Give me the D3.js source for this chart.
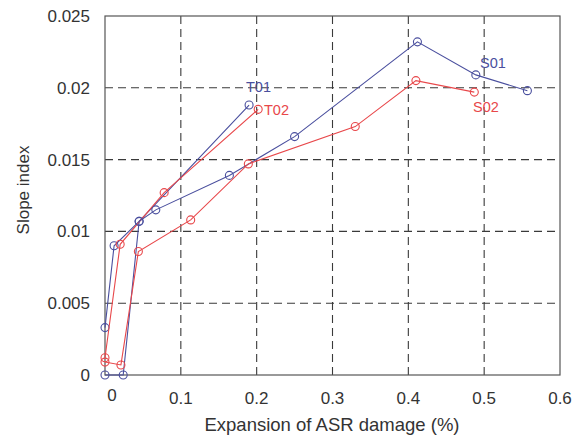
<!DOCTYPE html>
<html>
<head>
<meta charset="utf-8">
<script src="https://cdn.jsdelivr.net/npm/d3@7"></script>
<style>
  html, body { margin: 0; padding: 0; background: #fff; }
  svg { display: block; font-family: "Liberation Sans", Arial, sans-serif; }
</style>
</head>
<body>
<svg id="chart" width="581" height="437"></svg>
<script>
// ---- data ----
const xTicks = [0, 0.1, 0.2, 0.3, 0.4, 0.5, 0.6];
const yTicks = [0, 0.005, 0.01, 0.015, 0.02, 0.025];
const yTickLabels = ["0", "0.005", "0.01", "0.015", "0.02", "0.025"];
const xTickLabels = ["0", "0.1", "0.2", "0.3", "0.4", "0.5", "0.6"];

const seriesNames = ["T01", "T02", "S01", "S02"];
const T01_x = [0, 0.012, 0.045, 0.190];
const T01_y = [0.0033, 0.0090, 0.0107, 0.0188];
const T02_x = [0, 0.020, 0.078, 0.202];
const T02_y = [0.0012, 0.0091, 0.0127, 0.0185];
const S01_x = [0, 0.024, 0.045, 0.067, 0.164, 0.250, 0.412, 0.489, 0.557];
const S01_y = [0, 0, 0.0107, 0.0115, 0.0139, 0.0166, 0.0232, 0.0209, 0.0198];
const S02_x = [0, 0.021, 0.044, 0.113, 0.189, 0.330, 0.410, 0.487];
const S02_y = [0.0009, 0.0007, 0.0086, 0.0108, 0.0147, 0.0173, 0.0205, 0.0197];

const BLUE = "#4a4f9e", RED = "#e8474a";
const series = [
  { name: "T01", xs: T01_x, ys: T01_y, color: BLUE, lx: 246, ly: 92 },
  { name: "T02", xs: T02_x, ys: T02_y, color: RED, lx: 264, ly: 115 },
  { name: "S01", xs: S01_x, ys: S01_y, color: BLUE, lx: 480, ly: 68 },
  { name: "S02", xs: S02_x, ys: S02_y, color: RED, lx: 473, ly: 112 }
];

// ---- layout ----
const L = 105, R = 560, T = 16, B = 375;
const svg = d3.select("#chart");
const x = d3.scaleLinear().domain([0, 0.6]).range([L, R]);
const y = d3.scaleLinear().domain([0, 0.025]).range([B, T]);

// grid
const grid = svg.append("g");
grid.selectAll("line.vx").data(xTicks.filter(v => v > 0 && v < 0.6)).enter()
  .append("line").attr("x1", d => x(d)).attr("x2", d => x(d)).attr("y1", T).attr("y2", B)
  .attr("stroke", "#3a3a3a").attr("stroke-width", 1.1).attr("stroke-dasharray", "8,5");
grid.selectAll("line.hy").data(yTicks.filter(v => v > 0 && v < 0.025)).enter()
  .append("line").attr("x1", L).attr("x2", R).attr("y1", d => y(d)).attr("y2", d => y(d))
  .attr("stroke", "#3a3a3a").attr("stroke-width", 1.1).attr("stroke-dasharray", "8,5");

// axes box
svg.append("rect").attr("x", L).attr("y", T).attr("width", R - L).attr("height", B - T)
  .attr("fill", "none").attr("stroke", "#555").attr("stroke-width", 1.2);

// tick labels
svg.append("g").selectAll("text").data(yTicks).enter().append("text")
  .attr("x", 90).attr("y", d => y(d) + 6)
  .attr("text-anchor", "end").attr("font-size", 17).attr("fill", "#333")
  .text((d, i) => yTickLabels[i]);
svg.append("g").selectAll("text").data(xTicks).enter().append("text")
  .attr("x", (d, i) => i === 0 ? x(d) + 7 : x(d)).attr("y", (d, i) => i === 0 ? 401 : 404)
  .attr("text-anchor", "middle").attr("font-size", 17).attr("fill", "#333")
  .text((d, i) => xTickLabels[i]);

// axis titles
svg.append("text").attr("x", 332).attr("y", 431).attr("text-anchor", "middle")
  .attr("font-size", 18.5).attr("fill", "#333").text("Expansion of ASR damage (%)");
svg.append("text").attr("transform", "translate(29,190) rotate(-90)").attr("text-anchor", "middle")
  .attr("font-size", 17).attr("fill", "#333").text("Slope index");

// series
const line = d3.line().x(d => x(d[0])).y(d => y(d[1]));
series.forEach(s => {
  const pts = s.xs.map((v, i) => [v, s.ys[i]]);
  const g = svg.append("g");
  g.append("path").attr("d", line(pts)).attr("fill", "none")
    .attr("stroke", s.color).attr("stroke-width", 1.1);
  g.selectAll("circle").data(pts).enter().append("circle")
    .attr("cx", d => x(d[0])).attr("cy", d => y(d[1])).attr("r", 4)
    .attr("fill", "none").attr("stroke", s.color).attr("stroke-width", 1.1);
  g.append("text").attr("x", s.lx).attr("y", s.ly).attr("font-size", 14.5)
    .attr("fill", s.color).text(s.name);
});
</script>
</body>
</html>
